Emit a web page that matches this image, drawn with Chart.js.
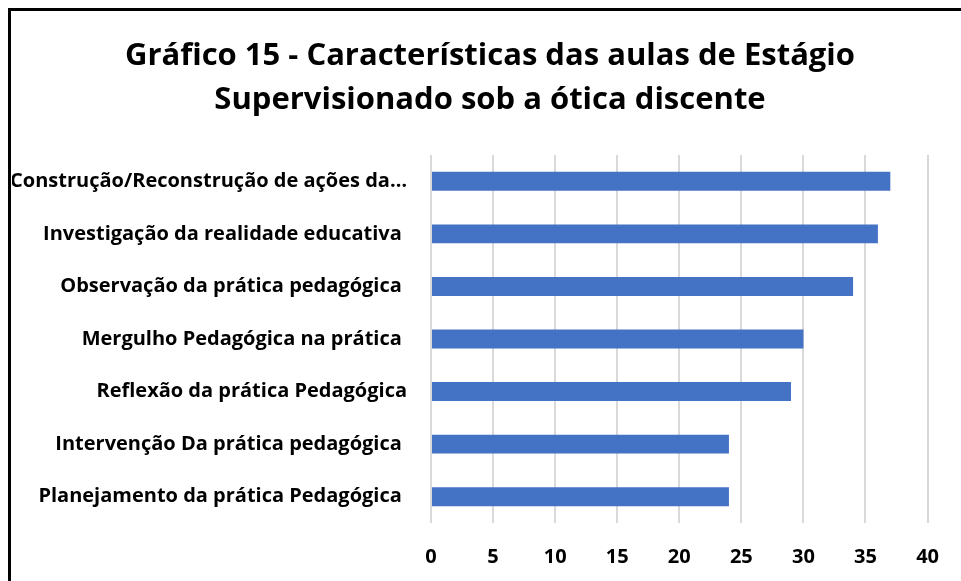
<!DOCTYPE html>
<html lang="pt-br">
<head>
    <meta charset="UTF-8">
    <title>Gráfico 15</title>
    <script src="https://cdn.jsdelivr.net/npm/chart.js"></script>
    <style>
        html, body { margin: 0; padding: 0; background: #fff; overflow: hidden; }
        .frame {
            position: absolute; left: 8px; top: 8px;
            width: 1000px; height: 1000px;
            border: 3px solid #000; box-sizing: border-box;
        }
        .chart-box { position: absolute; left: 0; top: 0; width: 961px; height: 581px; }
    </style>
</head>
<body>
    <div class="frame"></div>
    <div class="chart-box">
        <canvas id="chart1"></canvas>
    </div>

<script>
    // dados
    const categorias = [
        'Construção/Reconstrução de ações da…',
        'Investigação da realidade educativa ',
        'Observação da prática pedagógica ',
        'Mergulho Pedagógica na prática ',
        'Reflexão da prática Pedagógica',
        'Intervenção Da prática pedagógica ',
        'Planejamento da prática Pedagógica '
    ];
    const valores = [37, 36, 34, 30, 29, 24, 24];
    const titulo = ['Gráfico 15 - Características das aulas de Estágio', 'Supervisionado sob a ótica discente'];

    const fonte = '"Open Sans", sans-serif';

    // os rótulos longos passam da borda do eixo, então alarga a área de recorte
    const soltarRotulos = {
        id: 'soltarRotulos',
        afterLayout: function (chart) {
            chart.scales.y.left = 12;
        }
    };

    new Chart(document.getElementById('chart1'), {
        type: 'bar',
        data: {
            labels: categorias,
            datasets: [{
                label: 'Série1',
                data: valores,
                backgroundColor: '#4472C4',
                categoryPercentage: 1,
                barPercentage: 0.36
            }]
        },
        options: {
            indexAxis: 'y',
            responsive: true,
            maintainAspectRatio: false,
            animation: false,
            layout: { padding: { left: 51, right: 32, top: 10, bottom: 12 } },
            plugins: {
                legend: { display: false },
                tooltip: { enabled: false },
                title: {
                    display: true,
                    text: titulo,
                    color: '#000',
                    font: { family: fonte, size: 31, weight: 'bold', lineHeight: 1.42 },
                    padding: { top: 24, bottom: 33 }
                }
            },
            scales: {
                x: {
                    min: 0,
                    max: 40,
                    afterFit: function (scale) { scale.height = 46; },
                    ticks: {
                        stepSize: 5,
                        color: '#000',
                        padding: 22,
                        font: { family: fonte, size: 20, weight: 'bold' }
                    },
                    grid: { color: '#d9d9d9', lineWidth: 2, drawTicks: false },
                    border: { display: false }
                },
                y: {
                    afterFit: function (scale) { scale.width = 380; },
                    ticks: {
                        color: '#000',
                        padding: 24,
                        font: { family: fonte, size: 20, weight: 'bold' }
                    },
                    grid: { display: false, drawTicks: false },
                    border: { display: false }
                }
            }
        },
        plugins: [soltarRotulos]
    });
</script>
</body>
</html>
